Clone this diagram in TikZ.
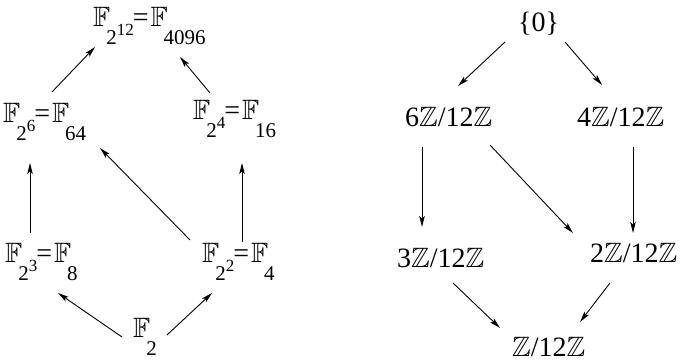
\documentclass[tikz,border=0pt]{standalone}
\usepackage{fix-cm}
\usepackage{amssymb}
\usepackage{fontspec}
\setmainfont{Liberation Serif}
\usetikzlibrary{arrows.meta}
\newcommand{\F}{$\mathbb{F}$}
\newcommand{\Z}{$\mathbb{Z}$}
% low subscripts and superscripts as the picture sets them
\newcommand{\sbb}[1]{\kern-4pt\raisebox{-18pt}{\fontsize{21}{21}\selectfont#1}}
\newcommand{\spp}[1]{\raisebox{-9pt}{\fontsize{17}{17}\selectfont#1}}
\newcommand{\eqq}{\kern-1pt=\kern2pt}
\begin{document}
\begin{tikzpicture}[x=1pt,y=1pt,
    lat/.style={anchor=base west,inner sep=0pt,font=\fontsize{28}{32}\selectfont},
    inc/.style={-{Stealth[length=11pt,width=5.5pt,inset=2.5pt]},line width=0.9pt}]
  \useasboundingbox (0,0) rectangle (683,363);
  % subfields of F_4096
  \node[lat](top)at(93,336){\F\sbb{2}\spp{12}\eqq\F\sbb{4096}};
  \node[lat](f64)at(3,240){\F\sbb{2}\spp{6}\eqq\F\sbb{64}};
  \node[lat](f16)at(193,243){\F\sbb{2}\spp{4}\eqq\F\sbb{16}};
  \node[lat](f8)at(5,100){\F\sbb{2}\spp{3}\eqq\F\sbb{8}};
  \node[lat](f4)at(202,100){\F\sbb{2}\spp{2}\eqq\F\sbb{4}};
  \node[lat](f2)at(133,25){\F\sbb{2}};
  \draw[inc]([shift={(49,31)}]f64.base west)--([shift={(2,-20)}]top.base west);
  \draw[inc]([shift={(17,27)}]f16.base west)--([shift={(87,-30)}]top.base west);
  \draw[inc]([shift={(-11,1)}]f2.base west)--([shift={(53,-30)}]f8.base west);
  \draw[inc]([shift={(34,3)}]f2.base west)--([shift={(10,-30)}]f4.base west);
  \draw[inc]([shift={(25,30)}]f8.base west)--([shift={(27,-40)}]f64.base west);
  \draw[inc]([shift={(-12,23)}]f4.base west)--([shift={(97,-25)}]f64.base west);
  \draw[inc]([shift={(40,21)}]f4.base west)--([shift={(49,-43)}]f16.base west);
  % subgroups of Z/12Z
  \node[lat](zero)at(518,331){\{0\}};
  \node[lat](six)at(405,236){6\Z/12\Z};
  \node[lat](four)at(577,236){4\Z/12\Z};
  \node[lat](three)at(397,95){3\Z/12\Z};
  \node[lat](two)at(590,100){2\Z/12\Z};
  \node[lat](unit)at(512,6){\Z/12\Z};
  \draw[inc]([shift={(-13,-10)}]zero.base west)--([shift={(53,41)}]six.base west);
  \draw[inc]([shift={(47,-10)}]zero.base west)--([shift={(25,42)}]four.base west);
  \draw[inc]([shift={(17,-20)}]six.base west)--([shift={(25,41)}]three.base west);
  \draw[inc]([shift={(85,-18)}]six.base west)--([shift={(-17,30)}]two.base west);
  \draw[inc]([shift={(56,-20)}]four.base west)--([shift={(43,30)}]two.base west);
  \draw[inc]([shift={(56,-15)}]three.base west)--([shift={(-12,29)}]unit.base west);
  \draw[inc]([shift={(20,-20)}]two.base west)--([shift={(68,35)}]unit.base west);
\end{tikzpicture}
\end{document}
